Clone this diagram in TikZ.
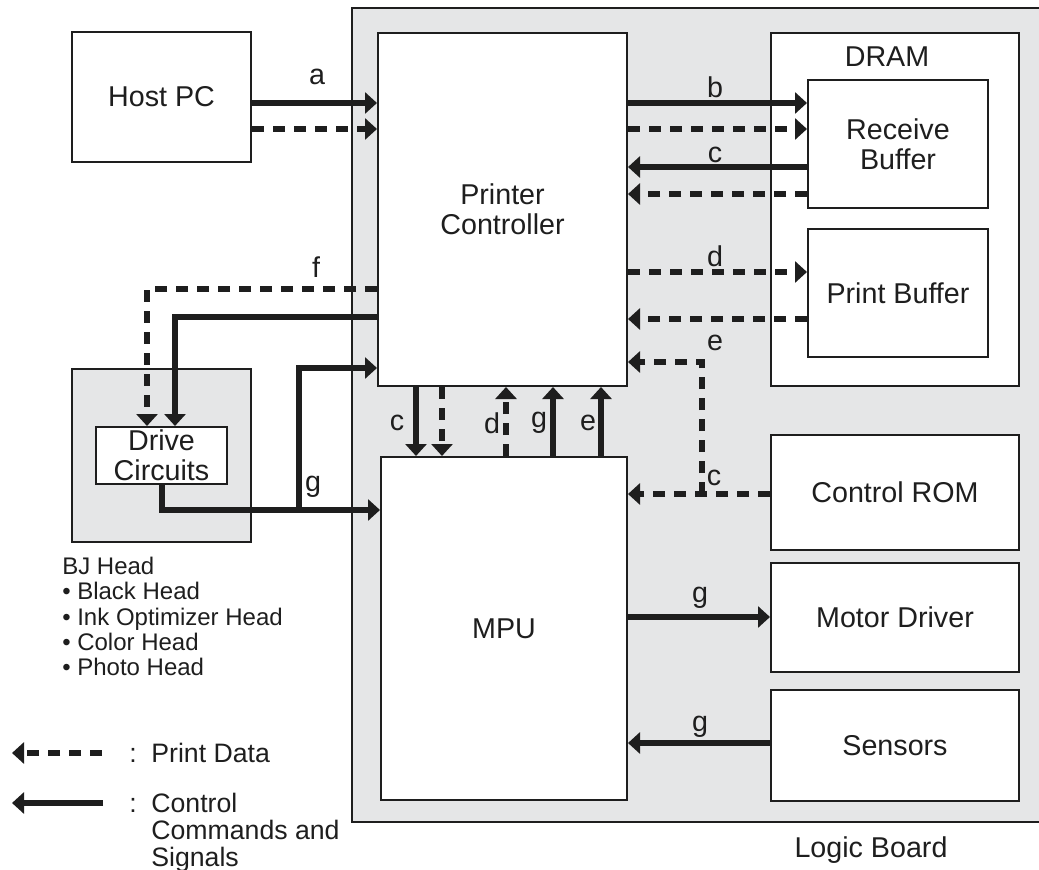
\documentclass[tikz,border=0pt]{standalone}
\usepackage{fontspec}
\setmainfont{Liberation Sans}
\usetikzlibrary{arrows.meta}
\definecolor{boardgray}{RGB}{229,230,231}
\definecolor{ink}{RGB}{30,30,30}
\tikzset{
  blk/.style={draw=ink, line width=1.5pt, fill=white, inner sep=0pt, align=center,
    font=\fontsize{21.5}{22.5}\selectfont, text=ink},
  ctrl/.style={draw=ink, line width=4.5pt, -{Triangle[length=9pt,width=15.75pt]}},
  data/.style={draw=ink, line width=5pt, dash pattern=on 9pt off 6.75pt,
    -{Triangle[length=9pt,width=15.75pt]}},
  lbl/.style={font=\fontsize{21.5}{22.5}\selectfont, text=ink, inner sep=0pt},
  small/.style={font=\fontsize{18}{19}\selectfont, text=ink, inner sep=0pt, align=left},
  legend/.style={font=\fontsize{20}{20.3}\selectfont, text=ink, inner sep=0pt, align=left},
}
\begin{document}
\begin{tikzpicture}[x=0.75pt, y=-0.75pt]
\useasboundingbox (0,0) rectangle (1039,870);
% Logic board
\draw[draw=ink, line width=2pt, fill=boardgray] (352,8) rectangle (1050,822);
\node[lbl] (lb) at (871,850) {Logic Board};
% BJ head box
\draw[draw=ink, line width=1.5pt, fill=boardgray] (72,369) rectangle (251,542);
% boxes
\node[blk, minimum width=134.25pt, minimum height=97.5pt] (host) at (161.5,97) {Host PC};
\node[blk, minimum width=186.75pt, minimum height=264.75pt] (pc) at (502.5,209.5) {Printer\\Controller};
\node[blk, minimum width=186pt, minimum height=264.75pt] (dram) at (895,209.5) {};
\node[lbl] (dramlbl) at (887,57) {DRAM};
\node[blk, minimum width=135pt, minimum height=96pt] (rb) at (898,144) {Receive\\Buffer};
\node[blk, minimum width=135pt, minimum height=96pt] (pbuf) at (898,293) {Print Buffer};
\node[blk, minimum width=186pt, minimum height=86.25pt] (rom) at (895,492.5) {Control ROM};
\node[blk, minimum width=186pt, minimum height=81.75pt] (motor) at (895,617.5) {Motor Driver};
\node[blk, minimum width=186pt, minimum height=83.25pt] (sens) at (895,745.5) {Sensors};
\node[blk, minimum width=184.5pt, minimum height=257.25pt] (mpu) at (504,628.5) {MPU};
\node[blk, minimum width=98.25pt, minimum height=42.75pt] (dc) at (161.5,455.5) {Drive\\Circuits};
% BJ head list
\node[small, anchor=north west] (bj) at (62,557) {BJ Head\\• Black Head\\• Ink Optimizer Head\\• Color Head\\• Photo Head};
% host <-> pc
\draw[ctrl] (host.east |- 0,103) -- (pc.west |- 0,103);
\draw[data] (host.east |- 0,129) -- (pc.west |- 0,129);
\node[lbl] at (317,77) {a};
% pc <-> receive buffer
\draw[ctrl] (pc.east |- 0,103) -- (rb.west |- 0,103);
\draw[data] (pc.east |- 0,129) -- (rb.west |- 0,129);
\draw[ctrl] (rb.west |- 0,167) -- (pc.east |- 0,167);
\draw[data] (rb.west |- 0,194) -- (pc.east |- 0,194);
\node[lbl] at (715,87) {b};
\node[lbl] at (715,155) {c};
% pc <-> print buffer
\draw[data] (pc.east |- 0,272) -- (pbuf.west |- 0,272);
\draw[data] (pbuf.west |- 0,319) -- (pc.east |- 0,319);
\node[lbl] at (715,256) {d};
% control rom
\coordinate (rj) at (702,494);
\draw[data] (rom.west |- 0,494) -- (mpu.east |- 0,494);
\draw[data] (rj) |- (pc.east |- 0,362);
\node[lbl] at (715,343) {e};
\node[lbl] at (714,478) {c};
% pc -> drive circuits
\draw[data] (pc.west |- 0,289) -| (dc.north -| 147,0);
\draw[ctrl] (pc.west |- 0,317) -| (dc.north -| 175,0);
\node[lbl] at (316,267) {f};
% drive circuits -> mpu / pc
\coordinate (gj) at (299,510);
\draw[ctrl] (dc.south) |- (mpu.west |- 0,510);
\draw[ctrl] (gj) |- (pc.west |- 0,368);
\node[lbl] at (313,487) {g};
% pc <-> mpu
\draw[ctrl] (pc.south -| 416,0) -- (mpu.north -| 416,0);
\draw[data] (pc.south -| 442,0) -- (mpu.north -| 442,0);
\draw[data] (mpu.north -| 506,0) -- (pc.south -| 506,0);
\draw[ctrl] (mpu.north -| 553,0) -- (pc.south -| 553,0);
\draw[ctrl] (mpu.north -| 601,0) -- (pc.south -| 601,0);
\node[lbl] at (397,423) {c};
\node[lbl] at (492,423) {d};
\node[lbl] at (539,423) {g};
\node[lbl] at (588,423) {e};
% mpu <-> motor, sensors
\draw[ctrl] (mpu.east |- 0,617) -- (motor.west |- 0,617);
\node[lbl] at (700,598) {g};
\draw[ctrl] (sens.west |- 0,743) -- (mpu.east |- 0,743);
\node[lbl] at (700,727) {g};
% legend
\coordinate (l1a) at (102,753);
\coordinate (l1b) at (12,753);
\coordinate (l2a) at (103,803);
\coordinate (l2b) at (12,803);
\draw[data] (l1a) -- (l1b);
\draw[ctrl] (l2a) -- (l2b);
\node[legend, anchor=base west] (pd) at (129,762) {:\hspace{0.55em}Print Data};
\node[legend, anchor=base west] (cc) at (129,812) {:\hspace{0.55em}\begin{tabular}[t]{@{}l@{}}Control\\Commands and\\Signals\end{tabular}};
\end{tikzpicture}
\end{document}
